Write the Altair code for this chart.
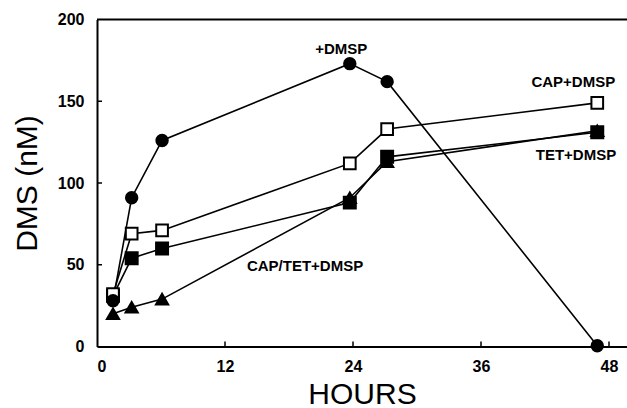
import altair as alt
import pandas as pd

hours = [1.5, 3.25, 6.1, 23.7, 27.2, 46.9]
dmsp = [28, 91, 126, 173, 162, 0.5]
cap_dmsp = [32, 69, 71, 112, 133, 149]
tet_dmsp = [31, 54, 60, 88, 116, 131]
captet_dmsp = [20, 24, 29, 91, 113, 132]

series_names = ["CAP/TET+DMSP", "TET+DMSP", "CAP+DMSP", "+DMSP"]
series_values = [captet_dmsp, tet_dmsp, cap_dmsp, dmsp]
shapes = ["triangle-up", "square", "square", "circle"]
fills = ["black", "black", "white", "black"]
sizes = [150, 130, 120, 200]

label_text = ["+DMSP", "CAP+DMSP", "TET+DMSP", "CAP/TET+DMSP"]
label_x = [22.9, 44.65, 44.9, 19.5]
label_y = [182, 162, 117, 49]

x_ticks = [12, 24, 36, 48]
y_ticks = [50, 100, 150]

rows = []
for name, vals in zip(series_names, series_values):
    for h, v in zip(hours, vals):
        rows.append({"series": name, "hours": h, "value": v})
df = pd.DataFrame(rows)
labels = pd.DataFrame({"text": label_text, "hours": label_x, "value": label_y})

W, H = 530, 327
FONT = "Liberation Sans"

xscale = alt.Scale(domain=[0, W / (512 / 48)], nice=False)
yscale = alt.Scale(domain=[0, 200], nice=False)

xaxis = alt.Axis(values=[0, 12, 24, 36, 48], title="HOURS", ticks=False, tickSize=0,
                 grid=False, domainColor="black", domainWidth=2,
                 labelFont=FONT, labelFontSize=16, labelFontWeight="bold", labelColor="black",
                 labelPadding=12, titleFont=FONT, titleFontSize=30, titleFontWeight="normal",
                 titleColor="black", titlePadding=5)
yaxis = alt.Axis(values=[0, 50, 100, 150, 200], title="DMS (nM)", ticks=False, tickSize=0,
                 grid=False, domainColor="black", domainWidth=2,
                 labelFont=FONT, labelFontSize=16, labelFontWeight="bold", labelColor="black",
                 labelPadding=13, titleFont=FONT, titleFontSize=30, titleFontWeight="normal",
                 titleColor="black", titlePadding=15)

base = alt.Chart(df)

lines = base.mark_line(color="black", strokeWidth=1.6).encode(
    x=alt.X("hours:Q", scale=xscale, axis=xaxis),
    y=alt.Y("value:Q", scale=yscale, axis=yaxis),
    detail="series:N",
    order="hours:Q",
)

points = base.mark_point(filled=True, stroke="black", strokeWidth=2, opacity=1).encode(
    x=alt.X("hours:Q", scale=xscale),
    y=alt.Y("value:Q", scale=yscale),
    shape=alt.Shape("series:N", scale=alt.Scale(domain=series_names, range=shapes), legend=None),
    fill=alt.Fill("series:N", scale=alt.Scale(domain=series_names, range=fills), legend=None),
    size=alt.Size("series:N", scale=alt.Scale(domain=series_names, range=sizes), legend=None),
)

text = alt.Chart(labels).mark_text(font=FONT, fontSize=15, fontWeight="bold", color="black").encode(
    x=alt.X("hours:Q", scale=xscale),
    y=alt.Y("value:Q", scale=yscale),
    text="text:N",
)

xt = alt.Chart(pd.DataFrame({"t": x_ticks})).mark_rule(color="black", strokeWidth=1.5).encode(
    x=alt.X("t:Q", scale=xscale),
    y=alt.value(H),
    y2=alt.value(H - 5),
)
yt = alt.Chart(pd.DataFrame({"t": y_ticks})).mark_rule(color="black", strokeWidth=1.5).encode(
    y=alt.Y("t:Q", scale=yscale),
    x=alt.value(0),
    x2=alt.value(5),
)
top = alt.Chart(pd.DataFrame({"t": [0]})).mark_rule(color="black", strokeWidth=2).encode(
    x=alt.value(0),
    x2=alt.value(W),
    y=alt.value(0),
)

chart = alt.layer(lines, xt, yt, top, points, text).properties(
    width=W, height=H,
    autosize=alt.AutoSizeParams(type="none"),
    padding={"left": 97, "top": 19.5, "right": 0, "bottom": 61.5},
    background="white",
).configure_view(stroke=None)

chart.save("out.html", embed_options={"renderer": "svg", "actions": False})
